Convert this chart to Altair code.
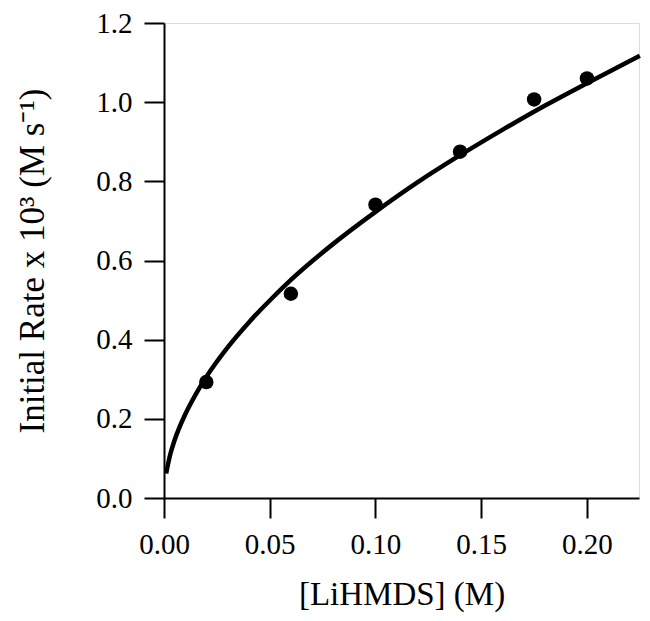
import altair as alt
import pandas as pd

# measured data points
conc = [0.020, 0.060, 0.100, 0.140, 0.175, 0.200]
rate = [0.293, 0.516, 0.741, 0.875, 1.007, 1.060]

# fitted curve
curve_x = [0.001, 0.003, 0.005, 0.010, 0.015, 0.020, 0.030, 0.040, 0.050, 0.060,
           0.080, 0.100, 0.120, 0.140, 0.160, 0.180, 0.200, 0.225]
curve_y = [0.062, 0.111, 0.146, 0.211, 0.262, 0.306, 0.380, 0.443, 0.499, 0.551,
           0.642, 0.723, 0.798, 0.866, 0.930, 0.991, 1.048, 1.117]

x_ticks = [0.0, 0.05, 0.10, 0.15, 0.20]
y_ticks = [0.0, 0.2, 0.4, 0.6, 0.8, 1.0, 1.2]

pts = pd.DataFrame({"x": conc, "y": rate})
fit = pd.DataFrame({"x": curve_x, "y": curve_y})

FONT = "Liberation Serif"

xs = alt.Scale(domain=[0, 0.2246], nice=False, zero=False)
ys = alt.Scale(domain=[0, 1.2], nice=False)

xax = alt.Axis(values=x_ticks, format=".2f", title="[LiHMDS] (M)", labelPadding=12,
               titlePadding=19, titleFontSize=33)
yax = alt.Axis(values=y_ticks, format=".1f", title="Initial Rate x 10³ (M s⁻¹)",
               labelPadding=12, titlePadding=45, titleFontSize=35)

line = alt.Chart(fit).mark_line(color="black", strokeWidth=4.5, interpolate="monotone").encode(
    x=alt.X("x:Q", scale=xs, axis=xax),
    y=alt.Y("y:Q", scale=ys, axis=yax),
)
dots = alt.Chart(pts).mark_circle(color="black", opacity=1, size=210).encode(
    x=alt.X("x:Q", scale=xs, axis=xax),
    y=alt.Y("y:Q", scale=ys, axis=yax),
)

chart = (line + dots).properties(
    width=475, height=475,
    autosize=alt.AutoSizeParams(type="none"),
    padding={"left": 156, "top": 15, "right": 3, "bottom": 115},
).configure_view(stroke="black", strokeWidth=2).configure(background="white").configure_axis(
    grid=False, tickSize=20, tickWidth=2, domainWidth=2, domainColor="black",
    tickColor="black", labelColor="black", titleColor="black",
    labelFont=FONT, titleFont=FONT, labelFontSize=29,
    titleFontWeight="normal", labelOverlap=False, labelFlush=False, labelBound=False,
)

chart.save("out.html", embed_options={"renderer": "svg", "actions": False})
